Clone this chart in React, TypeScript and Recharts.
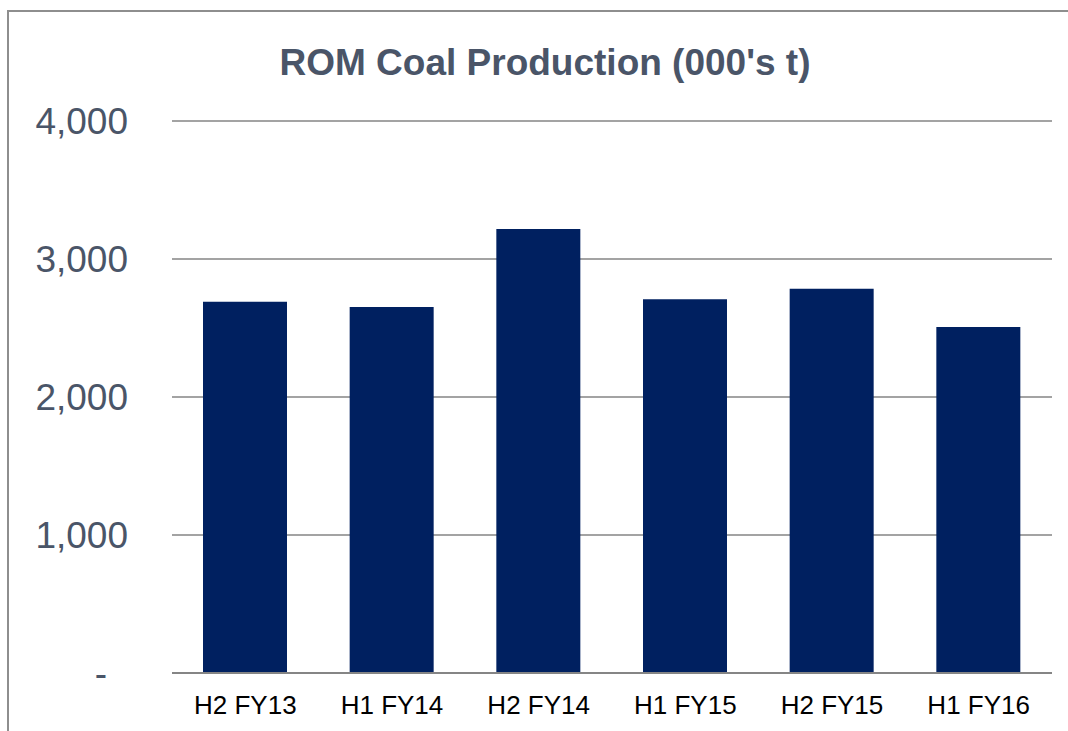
import React from 'react';
import { BarChart, Bar, XAxis, YAxis, CartesianGrid } from 'recharts';

const periods = ['H2 FY13', 'H1 FY14', 'H2 FY14', 'H1 FY15', 'H2 FY15', 'H1 FY16'];
const production = [2690, 2653, 3217, 2708, 2785, 2508];
const yTicks = [0, 1000, 2000, 3000, 4000];

const data = periods.map((name, i) => ({ name, value: production[i] }));

const FONT = '"Liberation Sans", Arial, sans-serif';

const YTick = (props: any) => {
  const { x, y, payload } = props;
  const v = payload.value as number;
  const label = v === 0 ? '-' : v.toLocaleString('en-US');
  return (
    <text
      x={v === 0 ? x - 65 : x - 44}
      y={y}
      dy={13}
      textAnchor="end"
      fill="#4a5568"
      fontSize={37}
      fontFamily={FONT}
    >
      {label}
    </text>
  );
};

const XTick = (props: any) => {
  const { x, y, payload } = props;
  return (
    <text x={x} y={y} dy={41} textAnchor="middle" fill="#000" fontSize={26} fontFamily={FONT}>
      {payload.value}
    </text>
  );
};

const App: React.FC = () => {
  return (
    <div style={{ position: 'absolute', left: 0, top: 0, width: 1068, height: 731, overflow: 'hidden', background: '#fff' }}>
      <div
        style={{
          position: 'absolute',
          left: 7,
          top: 10,
          width: 1100,
          height: 760,
          borderLeft: '2px solid #8e8e8e',
          borderTop: '2px solid #8e8e8e',
        }}
      />
      <svg width={1068} height={100} style={{ position: 'absolute', left: 0, top: 0 }}>
        <text x={545} y={75} textAnchor="middle" fill="#4a5568" fontSize={37} fontWeight="bold" fontFamily={FONT}>
          ROM Coal Production (000's t)
        </text>
      </svg>
      <div style={{ position: 'absolute', left: 0, top: 0 }}>
        <BarChart width={1068} height={731} data={data} margin={{ top: 121, right: 16, left: 0, bottom: 0 }}>
          <CartesianGrid vertical={false} stroke="#858585" strokeWidth={1.5} />
          <XAxis
            dataKey="name"
            height={58}
            tickLine={false}
            tickSize={0}
            tickMargin={0}
            axisLine={{ stroke: '#858585', strokeWidth: 2 }}
            tick={<XTick />}
            interval={0}
          />
          <YAxis
            width={172}
            domain={[0, 4000]}
            ticks={yTicks}
            axisLine={false}
            tickLine={false}
            tickSize={0}
            tickMargin={0}
            tick={<YTick />}
            interval={0}
          />
          <Bar dataKey="value" fill="#002060" barSize={84} isAnimationActive={false} />
        </BarChart>
      </div>
    </div>
  );
};

export default App;
